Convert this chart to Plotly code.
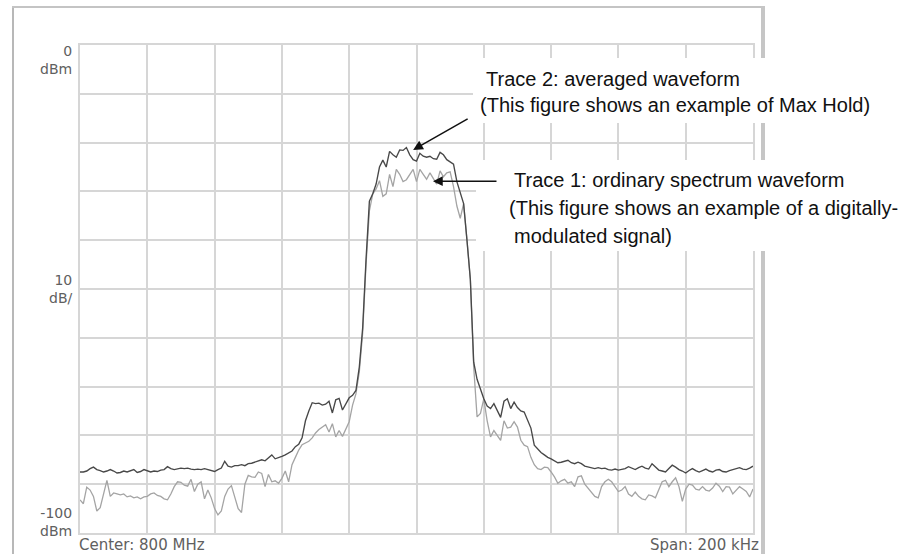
import plotly.graph_objects as go

# ---------------- data ----------------
FREQ_KHZ = list(range(-100, 101))  # offset from 800 MHz centre, 1 kHz bins

TRACE2_MAXHOLD = [
    -87.5, -87.5, -87.3, -86.8, -86.5, -87.0, -87.2, -87.5, -87.3, -87.0,
    -87.3, -87.7, -87.6, -87.3, -87.5, -87.2, -87.0, -87.6, -87.4, -87.0,
    -87.2, -87.5, -87.3, -87.4, -87.1, -87.0, -86.4, -86.8, -87.0, -86.9,
    -86.7, -86.8, -86.7, -86.9, -87.0, -86.9, -87.0, -86.8, -87.0, -87.3,
    -87.4, -87.0, -86.7, -85.3, -86.3, -86.5, -86.2, -86.2, -86.0, -86.2,
    -85.8, -85.7, -85.5, -85.3, -85.0, -85.2, -84.5, -84.0, -84.8, -84.6,
    -84.3, -84.0, -83.6, -83.2, -82.3, -81.8, -80.5, -77.0, -75.0, -73.3,
    -73.5, -73.4, -73.8, -73.6, -73.0, -75.4, -72.7, -72.4, -74.8, -73.5,
    -72.3, -71.8, -70.8, -66.0, -58.0, -44.0, -32.0, -30.5, -28.5, -25.0,
    -23.6, -25.0, -21.8, -22.5, -23.0, -21.5, -21.6, -21.0, -22.5, -23.5,
    -23.8, -22.2, -22.8, -23.0, -22.8, -23.3, -23.4, -22.0, -22.5, -23.5,
    -24.0, -24.4, -28.0, -30.3, -32.5, -40.0, -48.0, -65.0, -68.5, -70.5,
    -72.5, -74.0, -74.5, -73.5, -75.0, -76.3, -73.0, -72.5, -74.5, -73.2,
    -74.3, -75.0, -75.2, -77.0, -78.5, -82.0, -82.8, -83.5, -84.0, -84.5,
    -84.8, -85.2, -85.6, -85.5, -85.3, -85.1, -85.6, -85.8, -85.5, -85.8,
    -86.3, -86.5, -86.6, -86.8, -86.6, -86.8, -86.7, -87.0, -87.1, -86.9,
    -87.1, -87.0, -86.8, -86.4, -86.7, -87.0, -86.6, -86.3, -86.7, -86.9,
    -85.8, -86.5, -87.1, -87.3, -87.5, -86.8, -86.1, -86.5, -87.0, -87.3,
    -87.7, -87.2, -86.8, -87.2, -87.5, -87.2, -86.9, -87.3, -87.5, -87.1,
    -87.0, -87.4, -87.5, -87.2, -87.0, -86.9, -86.6, -86.9, -87.0, -86.7,
    -86.3,
]

TRACE1_ORDINARY = [
    -93.2, -94.0, -90.6, -91.2, -92.5, -95.5, -94.8, -92.0, -89.2, -92.5,
    -91.8, -92.0, -92.2, -92.0, -92.6, -92.4, -92.8, -92.6, -93.0, -92.6,
    -92.5, -92.0, -91.8, -92.3, -92.5, -93.0, -93.2, -92.0, -90.5, -89.5,
    -89.6, -90.2, -90.4, -89.0, -91.5, -90.0, -89.5, -93.0, -91.2, -92.8,
    -95.0, -96.3, -95.5, -92.5, -91.0, -90.3, -92.5, -95.0, -95.8, -90.0,
    -88.2, -88.5, -88.6, -87.5, -87.8, -90.5, -88.0, -89.5, -89.3, -89.8,
    -88.8, -87.3, -89.5, -86.0, -84.5, -83.0, -81.9, -81.5, -81.2, -80.5,
    -79.5, -78.8, -78.3, -77.8, -79.3, -77.6, -80.3, -79.0, -80.2, -78.5,
    -77.2, -73.8, -71.5, -67.0, -59.0, -45.0, -34.0, -30.5, -29.5, -27.8,
    -31.0, -30.5, -26.5, -29.0, -25.5, -26.5, -28.0, -27.6, -26.5, -25.5,
    -28.0, -25.5, -26.5, -27.5, -26.2, -27.5, -28.5, -25.8, -27.0, -26.2,
    -26.0, -29.0, -33.0, -35.5, -32.5, -40.0, -48.0, -66.0, -76.2, -75.5,
    -72.5, -77.0, -80.3, -79.0, -80.0, -81.0, -77.0, -78.5, -78.3, -77.2,
    -78.3, -81.0, -82.0, -82.3, -84.5, -86.0, -86.8, -87.0, -86.5, -86.6,
    -87.5, -88.5, -89.8, -89.3, -89.0, -89.8, -89.5, -90.5, -88.5, -88.3,
    -90.0, -90.8, -91.5, -92.5, -92.8, -90.5, -89.5, -89.0, -89.5, -90.5,
    -91.5, -91.2, -90.5, -92.0, -92.5, -91.6, -92.5, -93.0, -93.2, -92.2,
    -92.4, -92.8, -91.2, -89.5, -89.2, -90.5, -89.5, -88.7, -90.5, -93.5,
    -91.0, -90.0, -90.2, -91.0, -91.2, -90.5, -91.2, -91.4, -90.8, -89.8,
    -90.4, -91.5, -90.5, -90.6, -92.0, -91.3, -90.5, -91.0, -91.5, -92.6,
    -91.0,
]

Y_LABELS = [("0<br>dBm", 60), ("10<br>dB/", 289), ("-100<br>dBm", 522)]
CENTER_TEXT = "Center: 800 MHz"
SPAN_TEXT = "Span: 200 kHz"
TRACE2_TEXT = ["Trace 2: averaged waveform",
               "(This figure shows an example of Max Hold)"]
TRACE1_TEXT = ["Trace 1: ordinary spectrum waveform",
               "(This figure shows an example of a digitally-",
               "modulated signal)"]

# ---------------- layout geometry ----------------
W, H = 905, 554
L, R, T, B = 80, 753, 45, 533
PW, PH = R - L, B - T


def px(x):
    return (x - L) / PW


def py(y):
    return (B - y) / PH


fig = go.Figure()
fig.add_trace(go.Scatter(x=FREQ_KHZ, y=TRACE1_ORDINARY, mode="lines",
                         line=dict(color="#a4a4a4", width=1.3),
                         name="Trace 1", showlegend=False, hoverinfo="skip"))
fig.add_trace(go.Scatter(x=FREQ_KHZ, y=TRACE2_MAXHOLD, mode="lines",
                         line=dict(color="#484848", width=1.35),
                         name="Trace 2", showlegend=False, hoverinfo="skip"))

grid = "#d6d6d6"
fig.update_xaxes(range=[-100, 100], dtick=20, tick0=-100, showgrid=True,
                 gridcolor=grid, gridwidth=1.6, zeroline=False,
                 showticklabels=False, ticks="", showline=True,
                 linecolor=grid, linewidth=1.6, mirror=True, fixedrange=True)
fig.update_yaxes(range=[-100, 0], dtick=10, tick0=-100, showgrid=True,
                 gridcolor=grid, gridwidth=1.6, zeroline=False,
                 showticklabels=False, ticks="", showline=True,
                 linecolor=grid, linewidth=1.6, mirror=True, fixedrange=True)

shapes = []
# outer frame of the screenshot
shapes.append(dict(type="line", xref="paper", yref="paper",
                   x0=px(13), x1=px(13), y0=py(6), y1=py(560),
                   line=dict(color="#b8b8b8", width=2)))
shapes.append(dict(type="line", xref="paper", yref="paper",
                   x0=px(12), x1=px(765), y0=py(7), y1=py(7),
                   line=dict(color="#c4c4c4", width=2)))
shapes.append(dict(type="line", xref="paper", yref="paper",
                   x0=px(763), x1=px(763), y0=py(6), y1=py(560),
                   line=dict(color="#c6c6c6", width=4)))
# white boxes behind the callout texts
shapes.append(dict(type="rect", xref="paper", yref="paper", layer="above",
                   x0=px(473), x1=px(910), y0=py(58), y1=py(123),
                   fillcolor="white", line=dict(width=0)))
shapes.append(dict(type="rect", xref="paper", yref="paper", layer="above",
                   x0=px(476), x1=px(910), y0=py(160), y1=py(251),
                   fillcolor="white", line=dict(width=0)))

ann = []
lab_font = dict(family="DejaVu Sans", size=14, color="#606060")
for txt, yc in Y_LABELS:
    ann.append(dict(xref="paper", yref="paper", x=px(74), y=py(yc), text=txt,
                    showarrow=False, xanchor="right", yanchor="middle",
                    align="right", font=lab_font))
ann.append(dict(xref="paper", yref="paper", x=px(77), y=py(545), text=CENTER_TEXT,
                showarrow=False, xanchor="left", yanchor="middle",
                font=dict(family="DejaVu Sans", size=15, color="#606060")))
ann.append(dict(xref="paper", yref="paper", x=px(761), y=py(545), text=SPAN_TEXT,
                showarrow=False, xanchor="right", yanchor="middle",
                font=dict(family="DejaVu Sans", size=15, color="#606060")))

call_font = dict(family="Liberation Sans, Arial", size=20, color="#111111")
for txt, (x, y) in zip(TRACE2_TEXT, [(484, 79), (478, 105)]):
    ann.append(dict(xref="paper", yref="paper", x=px(x), y=py(y), text=txt,
                    showarrow=False, xanchor="left", yanchor="middle",
                    font=call_font))
for txt, (x, y) in zip(TRACE1_TEXT, [(512, 180), (507, 208), (512, 236)]):
    ann.append(dict(xref="paper", yref="paper", x=px(x), y=py(y), text=txt,
                    showarrow=False, xanchor="left", yanchor="middle",
                    font=call_font))

# arrows pointing at the traces
ann.append(dict(xref="x", yref="y", x=-1.0, y=-21.5, ax=56, ay=-32, text="",
                showarrow=True, arrowhead=2, arrowsize=1.3, arrowwidth=1.5,
                arrowcolor="#111111"))
ann.append(dict(xref="x", yref="y", x=4.9, y=-27.9, ax=65, ay=0, text="",
                showarrow=True, arrowhead=2, arrowsize=1.3, arrowwidth=1.5,
                arrowcolor="#111111"))

fig.update_layout(width=W, height=H, autosize=False,
                  margin=dict(l=L, r=W - R, t=T, b=H - B, pad=0),
                  paper_bgcolor="white", plot_bgcolor="white",
                  shapes=shapes, annotations=ann, showlegend=False)

fig.write_html("out.html", config={"displayModeBar": False},
               post_script="document.body.style.margin='0';"
                           "document.body.style.overflow='hidden';")
